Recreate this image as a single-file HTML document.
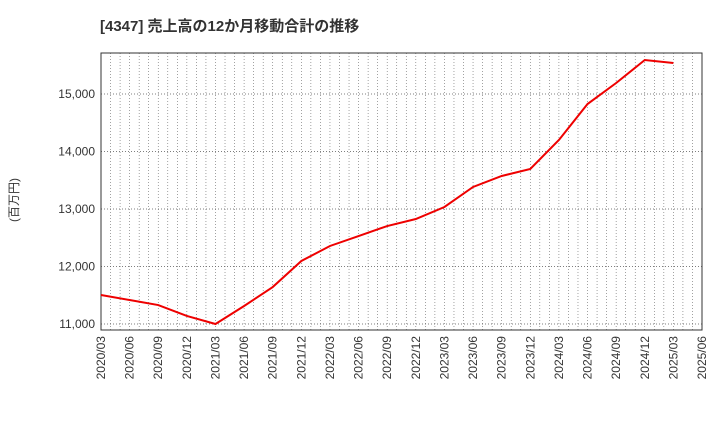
<!DOCTYPE html>
<html><head><meta charset="utf-8"><style>
body{margin:0;background:#fff;}
svg text{font-family:"Liberation Sans","Noto Sans CJK JP",sans-serif;}
</style></head><body>
<svg id="c" width="720" height="440"></svg>
<script>
const categories=["2020/03","2020/06","2020/09","2020/12","2021/03","2021/06","2021/09","2021/12","2022/03","2022/06","2022/09","2022/12","2023/03","2023/06","2023/09","2023/12","2024/03","2024/06","2024/09","2024/12","2025/03","2025/06"];
const salesValues=[11504,11417,11330,11140,11000,11313,11643,12096,12357,12530,12704,12826,13035,13383,13574,13696,14200,14826,15191,15591,15539];
const yTicks=[11000,12000,13000,14000,15000];
const yTickLabels=["11,000","12,000","13,000","14,000","15,000"];
const NS="http://www.w3.org/2000/svg";
const svg=document.getElementById('c');
const L=101,R=702,T=53,B=330,yMin=10896,yMax=15713;
const xs=i=>L+(R-L)*i/(categories.length-1);
const ys=v=>B-(v-yMin)/(yMax-yMin)*(B-T);
function mk(t,a){const e=document.createElementNS(NS,t);for(const k in a)e.setAttribute(k,a[k]);svg.appendChild(e);return e;}
let e=mk('text',{x:100,y:31,'font-size':15,'font-weight':'bold',fill:'#333'});e.textContent='[4347]  売上高の12か月移動合計の推移';


e=mk('text',{x:18,y:200,'font-size':12,fill:'#333',transform:'rotate(-90 18 200)','text-anchor':'middle'});e.textContent='(百万円)';


// monthly vertical grid
for(let m=1;m<(categories.length-1)*3;m++){const x=L+(R-L)*m/((categories.length-1)*3);
e=mk('line',{x1:x,x2:x,y1:T,y2:B,stroke:'#666','stroke-width':0.6,'stroke-dasharray':'1,2'});

}
yTicks.forEach((v,i)=>{const y=ys(v);
e=mk('line',{x1:L,x2:R,y1:y,y2:y,stroke:'#555','stroke-width':0.7,'stroke-dasharray':'1,2'});


e=mk('text',{x:L-6,y:y+4,'font-size':12,fill:'#333','text-anchor':'end'});e.textContent=yTickLabels[i];

});
categories.forEach((c,i)=>{const x=xs(i);
e=mk('text',{x:x+4,y:B+6,'font-size':12,fill:'#333','text-anchor':'end',transform:`rotate(-90 ${x+4} ${B+6})`});e.textContent=c;

});
e=mk('rect',{x:L,y:T,width:R-L,height:B-T,fill:'none',stroke:'#333','stroke-width':1});


e=mk('polyline',{points:salesValues.map((v,i)=>xs(i)+','+ys(v)).join(' '),fill:'none',stroke:'#e00','stroke-width':2});


</script>
</body></html>
